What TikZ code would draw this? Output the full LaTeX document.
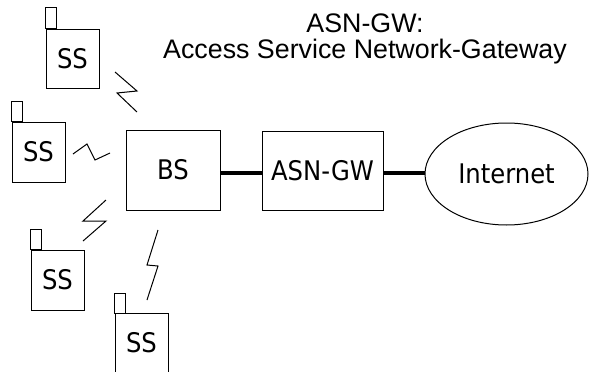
\documentclass[tikz,border=0pt]{standalone}
\usepackage{fontspec}
\setmainfont{Liberation Sans}
\newfontfamily\lblfont{DejaVu Sans Condensed}
\usetikzlibrary{shapes.geometric}
\begin{document}
\begin{tikzpicture}[x=1pt,y=-1pt,
  thin line/.style={line width=1pt, draw=black},
  lbl/.style={font=\lblfont\fontsize{27}{30}\selectfont},
  box/.style={rectangle, thin line, inner sep=0pt, lbl},
  antenna/.style={thin line},
  bolt/.style={line width=1pt, line join=miter},
  link/.style={line width=4.2pt},
  ttl/.style={font=\fontsize{26.8}{30}\selectfont, inner sep=0pt, anchor=base}
]
\useasboundingbox (0,0) rectangle (589,372);
\clip (0,0) rectangle (589,372);

% title
\node[ttl] (title1) at (365,32) {ASN-GW:};
\node[ttl] (title2) at (365,58) {Access Service Network-Gateway};

% subscriber stations
\node[box, minimum width=53pt, minimum height=59pt] (ss1) at (72.5,58.5) {SS};
\draw[antenna] (ss1.north west) rectangle ++(11,-21);
\node[box, minimum width=53pt, minimum height=60pt] (ss2) at (38.5,152) {SS};
\draw[antenna] (ss2.north west) rectangle ++(11,-20);
\node[box, minimum width=53pt, minimum height=60pt] (ss3) at (57.5,280) {SS};
\draw[antenna] (ss3.north west) rectangle ++(11,-20);
\node[box, minimum width=53pt, minimum height=80pt, anchor=north] (ss4) at (141.5,313) {};
\node[lbl, inner sep=0pt] (ss4t) at (141.5,343) {SS};
\draw[antenna] (ss4.north west) rectangle ++(11,-20);

% base station, gateway, internet
\node[box, minimum width=94pt, minimum height=80pt] (bs) at (173,170) {BS};
\node[box, minimum width=121pt, minimum height=79pt] (asn) at (322.5,171) {ASN-GW};
\node[ellipse, thin line, minimum width=163pt, minimum height=102pt, inner sep=0pt, lbl]
  (inet) at (506.5,174) {Internet};

\draw[link] (bs.east |- 0,173) -- (asn.west |- 0,173);
\draw[link] (asn.east |- 0,173) -- (inet.west |- 0,173);

% radio links (lightning bolts)
\draw[bolt] (115,72) -- (137,91) -- (117,93) -- (137,112);
\draw[bolt] (73,154) -- (87,144) -- (95,160) -- (110,153);
\draw[bolt] (106,200) -- (83,221) -- (106,221) -- (83,241);
\draw[bolt] (158,230) -- (147,265) -- (158,266) -- (147,300);
\end{tikzpicture}
\end{document}
